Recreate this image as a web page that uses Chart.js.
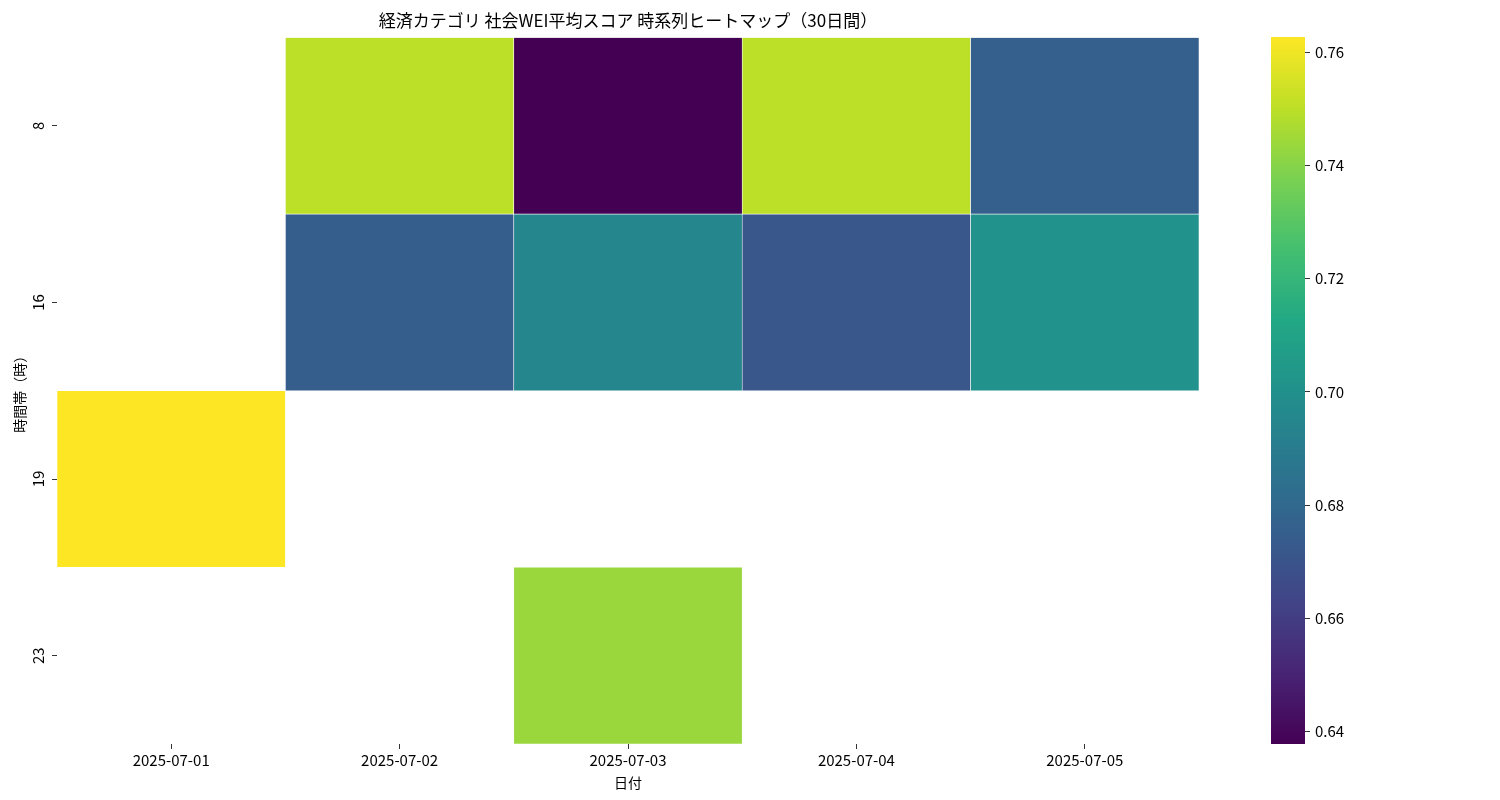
<!DOCTYPE html>
<html>
<head>
<meta charset="utf-8">
<script src="https://cdn.jsdelivr.net/npm/chart.js@4.4.1/dist/chart.umd.min.js"></script>
<style>
    html, body { margin: 0; padding: 0; background: #fff; }
    #wrap { position: relative; width: 1500px; height: 800px; }
    #wrap canvas { position: absolute; left: 0; top: 0; }
</style>
</head>
<body>
<div id="wrap">
    <canvas id="heatmapChart" width="1500" height="800"></canvas>
    <canvas id="colorbarChart" width="1500" height="800"></canvas>
</div>
<script>
// data
const dates = ['2025-07-01', '2025-07-02', '2025-07-03', '2025-07-04', '2025-07-05'];
const hours = ['8', '16', '19', '23'];

// average score per hour row, one value per date (null = no data)
const score8  = [null,   0.750,  0.6378, 0.750,  0.6753];
const score16 = [null,   0.675,  0.695,  0.6715, 0.701];
const score19 = [0.7627, null,   null,   null,   null];
const score23 = [null,   null,   0.7435, null,   null];

const colorMin = 0.6378;
const colorMax = 0.7627;
const colorTicks = [0.64, 0.66, 0.68, 0.70, 0.72, 0.74, 0.76];

Chart.defaults.font.family = '"Noto Sans CJK JP", "Noto Sans", sans-serif';
Chart.defaults.color = '#000';

// viridis colour map
const viridisStops = ['#440154', '#482475', '#414487', '#355f8d', '#2a788e', '#21918c',
                      '#22a884', '#44bf70', '#7ad151', '#bddf26', '#fde725'];

function hexToRgb(h) {
    return [parseInt(h.slice(1, 3), 16), parseInt(h.slice(3, 5), 16), parseInt(h.slice(5, 7), 16)];
}

function viridis(v) {
    let t = (v - colorMin) / (colorMax - colorMin);
    t = Math.max(0, Math.min(1, t));
    const p = t * 10;
    const i = Math.min(9, Math.floor(p));
    const f = p - i;
    const a = hexToRgb(viridisStops[i]);
    const b = hexToRgb(viridisStops[i + 1]);
    const c = a.map((x, k) => Math.round(x + (b[k] - x) * f));
    return 'rgb(' + c.join(',') + ')';
}

// =========================
// 1. Heatmap (floating bars on a category x axis)
// =========================
const rows = [score8, score16, score19, score23];

const datasets = rows.map(function (row, r) {
    return {
        label: hours[r] + '時',
        data: row
            .map((v, i) => v === null ? null : { x: dates[i], y: [r, r + 1], v: v })
            .filter(d => d),
        backgroundColor: ctx => ctx.raw ? viridis(ctx.raw.v) : '#fff',
        borderColor: '#ffffff',
        borderWidth: 0.6,
        borderSkipped: false,
        grouped: false,
        categoryPercentage: 1,
        barPercentage: 1
    };
});

// y tick labels are rotated like the reference, drawn at the scale's tick positions
const hourLabels = {
    id: 'hourLabels',
    afterDraw(chart) {
        const ys = chart.scales.y;
        const ctx = chart.ctx;
        ctx.save();
        ctx.font = '15px "Noto Sans CJK JP"';
        ctx.fillStyle = '#000';
        ctx.textAlign = 'center';
        ctx.textBaseline = 'middle';
        ys.ticks.forEach(function (t, i) {
            ctx.save();
            ctx.translate(ys.right - 19, ys.getPixelForValue(t.value));
            ctx.rotate(-Math.PI / 2);
            ctx.fillText(hours[i], 0, 0);
            ctx.restore();
        });
        ctx.restore();
    }
};

new Chart(document.getElementById('heatmapChart'), {
    type: 'bar',
    data: { labels: dates, datasets: datasets },
    plugins: [hourLabels],
    options: {
        responsive: false,
        animation: false,
        layout: { padding: { left: 0, right: 301, top: 0, bottom: 0 } },
        plugins: {
            legend: { display: false },
            tooltip: { enabled: false },
            title: {
                display: true,
                text: '経済カテゴリ 社会WEI平均スコア 時系列ヒートマップ（30日間）',
                fullSize: false,
                font: { size: 17, weight: 'normal' },
                color: '#000',
                padding: { top: 10, bottom: 7 }
            }
        },
        scales: {
            x: {
                type: 'category',
                offset: true,
                grid: { offset: false, drawOnChartArea: false, tickLength: 5, color: '#000', lineWidth: 0.8 },
                border: { display: false },
                ticks: { font: { size: 15 }, padding: 2, maxRotation: 0, autoSkip: false },
                title: { display: true, text: '日付', font: { size: 14 }, padding: { top: 0, bottom: 9 } },
                afterFit: s => { s.height = 56; }
            },
            y: {
                type: 'linear',
                min: 0,
                max: hours.length,
                reverse: true,
                afterBuildTicks: s => { s.ticks = hours.map((h, i) => ({ value: i + 0.5 })); },
                ticks: { display: false },
                grid: { drawOnChartArea: false, tickLength: 5, color: '#000', lineWidth: 0.8 },
                border: { display: false },
                title: { display: true, text: '時間帯（時）', font: { size: 14 }, padding: { top: 11, bottom: 0 } },
                afterFit: s => { s.width = 57; }
            }
        }
    }
});

// =========================
// 2. Colour bar
// =========================
new Chart(document.getElementById('colorbarChart'), {
    type: 'bar',
    data: {
        labels: ['score'],
        datasets: [{
            data: [[colorMin, colorMax]],
            backgroundColor: function (ctx) {
                const area = ctx.chart.chartArea;
                if (!area) return viridisStops[0];
                const g = ctx.chart.ctx.createLinearGradient(0, area.bottom, 0, area.top);
                viridisStops.forEach((c, i) => g.addColorStop(i / 10, c));
                return g;
            },
            borderWidth: 0,
            categoryPercentage: 1,
            barPercentage: 1
        }]
    },
    options: {
        responsive: false,
        animation: false,
        layout: { padding: { left: 1271, right: 100, top: 37, bottom: 56 } },
        plugins: {
            legend: { display: false },
            tooltip: { enabled: false }
        },
        scales: {
            x: { display: false },
            y: {
                position: 'right',
                min: colorMin,
                max: colorMax,
                afterBuildTicks: s => { s.ticks = colorTicks.map(v => ({ value: v })); },
                ticks: { callback: v => v.toFixed(2), padding: 5, font: { size: 15 } },
                grid: { drawOnChartArea: false, tickLength: 5, color: '#000', lineWidth: 0.8 },
                border: { display: false },
                afterFit: s => { s.width = 95; }
            }
        }
    }
});
</script>
</body>
</html>
